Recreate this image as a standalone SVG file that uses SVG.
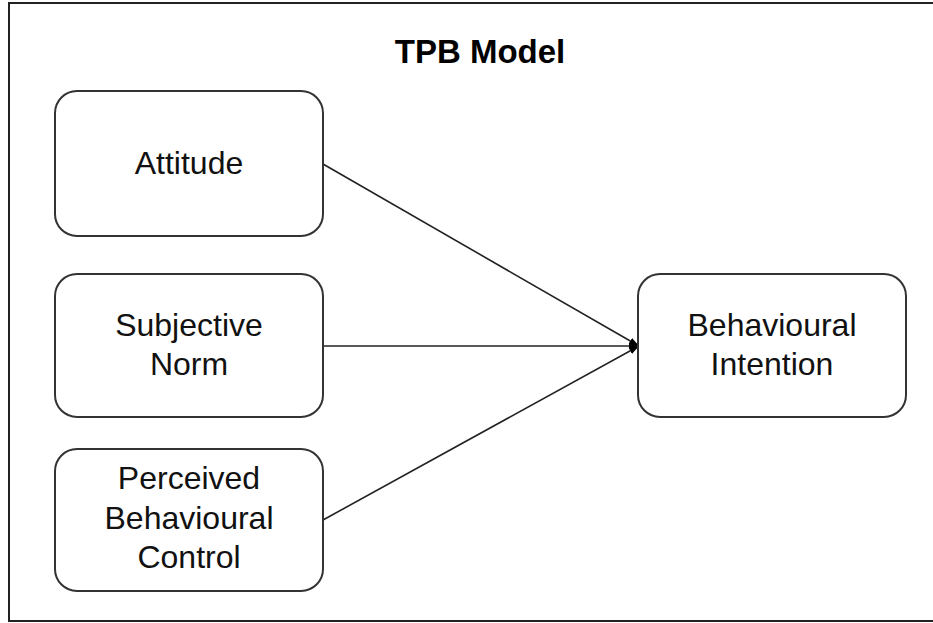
<svg xmlns="http://www.w3.org/2000/svg" width="933" height="623" viewBox="0 0 933 623">
<style>
.box{fill:#fff;stroke:#333;stroke-width:2}
.lbl{font-family:"Liberation Sans",Arial,sans-serif;font-size:32px;fill:#111;text-anchor:middle}
.title{font-family:"Liberation Sans",Arial,sans-serif;font-size:33px;font-weight:bold;fill:#000;text-anchor:middle}
.conn{stroke:#222;stroke-width:1.6;fill:none;marker-end:url(#arr)}
</style>
<defs>
<marker id="arr" viewBox="0 0 10 10" refX="10" refY="5" markerWidth="10" markerHeight="10" markerUnits="userSpaceOnUse" orient="auto">
<path d="M0,1.5 L10,5 L0,8.5 Z" fill="#000"/>
</marker>
</defs>
<rect x="0" y="0" width="933" height="623" fill="#fff"/>
<rect x="9" y="3" width="940" height="618" fill="none" stroke="#222" stroke-width="2"/>
<text class="title" x="480" y="63">TPB Model</text>
<g id="connectors">
<line class="conn" x1="323" y1="164" x2="639" y2="346"/>
<line class="conn" x1="323" y1="346" x2="639" y2="346"/>
<line class="conn" x1="323" y1="520" x2="639" y2="346"/>
</g>
<g id="attitude">
<rect class="box" x="55" y="91" width="268" height="145" rx="22"/>
<text class="lbl" x="189" y="174">Attitude</text>
</g>
<g id="subjective-norm">
<rect class="box" x="55" y="274" width="268" height="143" rx="22"/>
<text class="lbl" x="189" y="336">Subjective</text>
<text class="lbl" x="189" y="375">Norm</text>
</g>
<g id="perceived-control">
<rect class="box" x="55" y="449" width="268" height="142" rx="22"/>
<text class="lbl" x="189" y="489">Perceived</text>
<text class="lbl" x="189" y="529">Behavioural</text>
<text class="lbl" x="189" y="568">Control</text>
</g>
<g id="behavioural-intention">
<rect class="box" x="638" y="274" width="268" height="143" rx="22"/>
<text class="lbl" x="772" y="336">Behavioural</text>
<text class="lbl" x="772" y="375">Intention</text>
</g>
</svg>
